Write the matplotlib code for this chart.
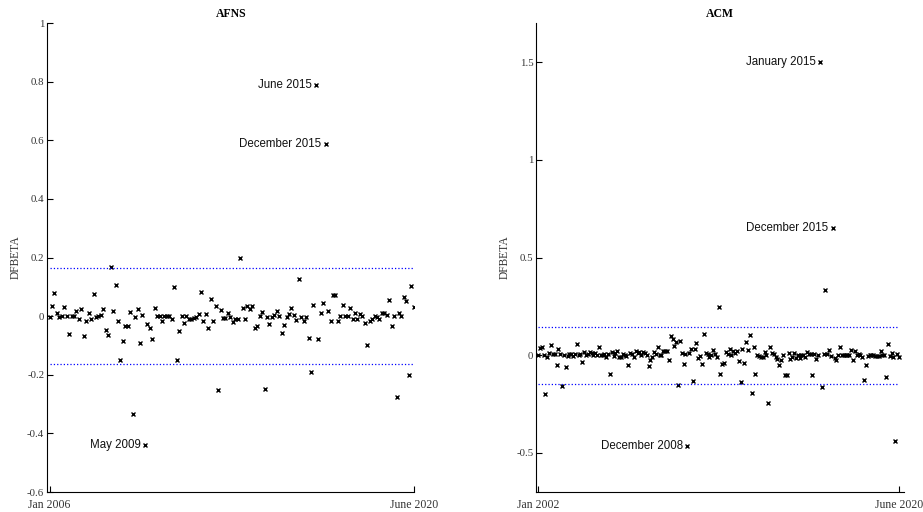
import numpy as np
import matplotlib.pyplot as plt

plt.rcParams['axes.unicode_minus'] = False

# DFBETA values, in time order
afns_dfbeta = [
    -0.003, 0.034, 0.08, 0.011, -0.002, 0.0, 0.032, 0.002, -0.06, 0.002,
    0.001, 0.019, -0.009, 0.025, -0.066, -0.016, 0.011, -0.009, 0.076, -0.002,
    0.0, 0.005, 0.024, -0.047, -0.063, 0.168, 0.018, 0.106, -0.016, -0.148,
    -0.086, -0.033, -0.035, 0.015, -0.334, -0.002, 0.023, -0.093, 0.003, -0.439,
    -0.026, -0.041, -0.077, 0.028, 0.0, -0.001, -0.018, 0.0, 0.001, 0.0,
    -0.009, 0.101, -0.151, -0.052, 0.002, -0.024, -0.001, -0.009, -0.009, -0.005,
    -0.003, 0.009, 0.081, -0.017, 0.006, -0.039, 0.059, -0.017, 0.033, -0.253,
    0.02, -0.006, -0.006, 0.01, -0.002, -0.02, -0.011, -0.011, 0.197, 0.028,
    -0.009, 0.033, 0.026, 0.034, -0.039, -0.035, -0.001, 0.015, -0.248, -0.002,
    -0.028, -0.002, 0.005, 0.018, -0.001, -0.059, -0.03, -0.003, 0.009, 0.027,
    0.003, -0.014, 0.128, -0.002, -0.015, -0.003, -0.076, -0.19, 0.037, 0.79,
    -0.079, 0.011, 0.044, 0.586, 0.018, -0.018, 0.073, 0.073, -0.015, 0.0,
    0.039, -0.001, -0.001, 0.028, -0.01, 0.011, -0.011, 0.009, 0.002, -0.025,
    -0.1, -0.017, -0.009, -0.001, -0.002, -0.009, 0.011, 0.012, 0.003, 0.056,
    -0.033, 0.0, -0.275, 0.011, 0.0, 0.065, 0.051, -0.202, 0.103, 0.03,
]

acm_dfbeta = [
    0.0, 0.039, 0.043, 0.0, -0.196, -0.01, 0.009, 0.053, 0.007, 0.007,
    -0.048, 0.031, 0.007, -0.156, 0.0, -0.058, -0.003, 0.005, 0.007, -0.003,
    0.005, 0.058, 0.0, 0.005, -0.037, 0.017, 0.003, 0.007, 0.015, 0.014,
    0.003, 0.012, 0.003, 0.043, 0.0, 0.0, 0.005, -0.007, 0.005, -0.095,
    0.019, -0.005, 0.009, 0.022, -0.01, -0.009, 0.007, 0.0, -0.003, -0.048,
    0.009, 0.007, -0.009, 0.022, 0.014, 0.015, 0.003, 0.015, 0.014, 0.0,
    -0.054, -0.026, -0.007, 0.017, 0.007, 0.044, 0.003, 0.003, 0.024, 0.024,
    0.024, -0.022, 0.097, 0.082, 0.048, 0.07, -0.153, 0.075, 0.012, -0.046,
    0.007, -0.464, 0.012, 0.034, -0.133, 0.034, 0.062, -0.016, -0.002, -0.043,
    0.107, 0.013, 0.007, -0.007, 0.0, 0.028, 0.007, -0.011, 0.248, -0.096,
    -0.045, -0.039, 0.016, 0.007, 0.03, 0.0, 0.02, 0.009, 0.02, -0.03,
    -0.136, 0.031, -0.039, 0.07, 0.029, 0.102, -0.192, 0.043, -0.098, 0.002,
    -0.005, -0.007, -0.007, 0.019, 0.002, -0.243, 0.041, 0.01, 0.008, -0.007,
    -0.02, -0.048, -0.026, 0.002, -0.102, -0.1, 0.014, -0.017, -0.007, 0.014,
    -0.014, 0.002, -0.015, 0.002, 0.002, -0.01, 0.017, 0.005, 0.007, -0.1,
    0.008, -0.017, 0.003, 1.5, -0.16, 0.008, 0.335, 0.008, 0.027, -0.002,
    0.65, -0.015, -0.026, 0.002, 0.044, 0.0, 0.002, 0.003, 0.003, 0.003,
    0.027, -0.022, 0.022, 0.003, 0.005, 0.002, -0.007, -0.129, -0.048, -0.003,
    0.002, 0.0, 0.0, -0.005, -0.002, -0.005, 0.024, 0.0, 0.002, -0.112,
    0.056, -0.003, 0.012, -0.007, -0.439, 0.007, -0.007,
]

afns_bound = 0.164
acm_bound = 0.146

afns_labels = {39: 'May 2009', 109: 'June 2015', 113: 'December 2015'}
acm_labels = {81: 'December 2008', 153: 'January 2015', 160: 'December 2015'}

panels = [
    ('AFNS', afns_dfbeta, afns_bound, afns_labels, ('Jan 2006', 'June 2020'),
     (-0.6, 1.0), [-0.6, -0.4, -0.2, 0, 0.2, 0.4, 0.6, 0.8, 1],
     ['-0.6', '-0.4', '-0.2', '0', '0.2', '0.4', '0.6', '0.8', '1'],
     [0.051, 0.039, 0.398, 0.916], 0.3),
    ('ACM', acm_dfbeta, acm_bound, acm_labels, ('Jan 2002', 'June 2020'),
     (-0.7, 1.7), [-0.5, 0, 0.5, 1, 1.5],
     ['-0.5', '0', '0.5', '1', '1.5'],
     [0.581, 0.039, 0.398, 0.916], 2.5),
]

fig = plt.figure(figsize=(9.23, 5.12), dpi=100)

for (title, vals, bound, labels, xt, ylim, yt, ytl, rect, xpad) in panels:
    ax = fig.add_axes(rect)
    n = len(vals)
    idx = np.arange(n)
    ax.plot(idx, vals, 'x', color='black', ms=2.2, mew=1.0)
    for c in (bound, -bound):
        ax.plot([0, n - 1], [c, c], ':', color='blue', lw=0.9)
    for i, lab in labels.items():
        ax.annotate(lab, (i, vals[i]), xytext=(-3, 0), textcoords='offset points',
                    ha='right', va='center', fontsize=8.3,
                    family='Liberation Sans', color='#111111')
    ax.set_xlim(-1, n - 1 + xpad)
    ax.set_ylim(*ylim)
    ax.set_xticks([0, n - 1])
    ax.set_xticklabels(xt, family='Liberation Serif', fontsize=8.5)
    ax.set_yticks(yt)
    ax.set_yticklabels(ytl, family='Liberation Serif', fontsize=7.8)
    ax.tick_params(direction='in', length=4, width=0.8, pad=2, labelcolor='#333333')
    ax.tick_params(axis='x', pad=5)
    ax.spines['top'].set_visible(False)
    ax.spines['right'].set_visible(False)
    for s in ('left', 'bottom'):
        ax.spines[s].set_linewidth(0.8)
    ax.set_title(title, family='Liberation Serif', fontweight='bold', fontsize=8.5, pad=4)
    ax.set_ylabel('DFBETA', family='Liberation Serif', fontsize=8.3, color='#333333', labelpad=4)

fig.savefig('out.png', dpi=100)
